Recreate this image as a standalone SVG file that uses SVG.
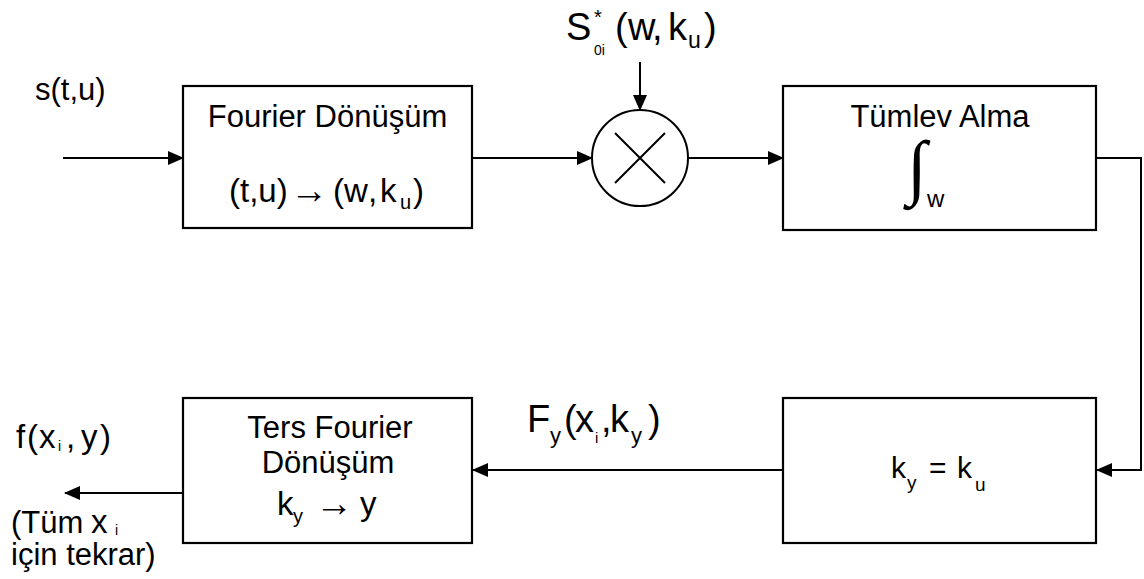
<svg xmlns="http://www.w3.org/2000/svg" width="1144" height="579" viewBox="0 0 1144 579">
  <style>
    .box { fill: #fff; stroke: #000; stroke-width: 2.2; }
    .wire { fill: none; stroke: #000; stroke-width: 2; }
    text { font-family: "Liberation Sans", Arial, sans-serif; fill: #000; }
    text.integral { font-family: "Liberation Serif", "DejaVu Serif", serif; font-size: 72px; }
    .lbl { font-size: 31px; }
    .eq { font-size: 33px; }
    .big { font-size: 38px; }
    .sub { font-size: 20px; }
    .tiny { font-size: 14px; }
  </style>
  <defs>
    <marker id="arrow" markerUnits="userSpaceOnUse" markerWidth="16" markerHeight="14" refX="15" refY="7" orient="auto">
      <path d="M0,0 L16,7 L0,14 Z" fill="#000"/>
    </marker>
  </defs>
  <rect width="1144" height="579" fill="#fff"/>

  <!-- connectors -->
  <g id="connectors">
    <line class="wire" x1="63" y1="158" x2="183" y2="158" marker-end="url(#arrow)"/>
    <line class="wire" x1="472" y1="158" x2="592" y2="158" marker-end="url(#arrow)"/>
    <line class="wire" x1="640" y1="62" x2="640" y2="110" marker-end="url(#arrow)"/>
    <line class="wire" x1="688" y1="158" x2="783" y2="158" marker-end="url(#arrow)"/>
    <path class="wire" d="M1096,158 H1141 V470 H1097" marker-end="url(#arrow)"/>
    <line class="wire" x1="783" y1="470" x2="473" y2="470" marker-end="url(#arrow)"/>
    <line class="wire" x1="183" y1="493" x2="65" y2="493" marker-end="url(#arrow)"/>
  </g>

  <!-- input signal -->
  <g id="input-label">
    <text class="lbl" x="35" y="100">s(t,u)</text>
  </g>

  <!-- reference signal -->
  <g id="reference-label">
    <text class="big" x="566" y="40">S</text>
    <text x="594" y="24" font-size="20">*</text>
    <text class="tiny" x="594" y="55">0i</text>
    <text class="big" x="615 628 652 668" y="40">(w,k</text>
    <text x="688" y="48" font-size="23">u</text>
    <text class="big" x="704" y="40">)</text>
  </g>

  <g id="fourier">
    <rect class="box" x="183" y="86" width="289" height="142"/>
    <text class="lbl" x="327.5" y="127" text-anchor="middle">Fourier Dönüşüm</text>
    <text class="eq" x="229" y="202">(t,u)</text>
    <text x="290" y="203" font-size="38">→</text>
    <text class="eq" x="333 344 368 380" y="202">(w,k</text>
    <text class="sub" x="400" y="209">u</text>
    <text class="eq" x="413" y="202">)</text>
  </g>

  <g id="multiplier">
    <circle cx="640" cy="158" r="48" fill="#fff" stroke="#000" stroke-width="2"/>
    <path class="wire" d="M615,133 L665,183 M665,133 L615,183"/>
  </g>

  <g id="integrate">
    <rect class="box" x="783" y="86" width="313" height="144"/>
    <text class="lbl" x="940" y="127" text-anchor="middle">Tümlev Alma</text>
    <text class="integral" x="907" y="191">∫</text>
    <text x="927" y="207" font-size="24">w</text>
  </g>

  <g id="assign">
    <rect class="box" x="783" y="398" width="313" height="145"/>
    <text x="891" y="478" font-size="30">k</text>
    <text x="907" y="489" font-size="19">y</text>
    <text x="929" y="478" font-size="30">=</text>
    <text x="957" y="478" font-size="30">k</text>
    <text x="975" y="491" font-size="19">u</text>
  </g>

  <g id="spectrum-label">
    <text x="527" y="432" font-size="38">F</text>
    <text x="550" y="443" font-size="22">y</text>
    <text x="564 575" y="432" font-size="38">(x</text>
    <text x="595" y="443" font-size="15">i</text>
    <text x="601 610" y="432" font-size="38">,k</text>
    <text x="631" y="443" font-size="22">y</text>
    <text x="648" y="432" font-size="38">)</text>
  </g>

  <g id="inverse-fourier">
    <rect class="box" x="183" y="398" width="289" height="145"/>
    <text class="lbl" x="330" y="438" text-anchor="middle">Ters Fourier</text>
    <text class="lbl" x="328" y="473" text-anchor="middle">Dönüşüm</text>
    <text class="eq" x="277" y="515">k</text>
    <text class="sub" x="293" y="523">y</text>
    <text x="315" y="516" font-size="38">→</text>
    <text class="eq" x="360" y="515">y</text>
  </g>

  <g id="output-label">
    <text class="eq" x="16 27 39" y="448">f(x</text>
    <text class="tiny" x="58" y="451">i</text>
    <text class="eq" x="66 81 100" y="448">,y)</text>
    <text class="lbl" x="11" y="533">(Tüm</text>
    <text class="eq" x="91" y="533">x</text>
    <text class="tiny" x="115" y="535">i</text>
    <text class="lbl" x="11" y="565">için tekrar)</text>
  </g>
</svg>
